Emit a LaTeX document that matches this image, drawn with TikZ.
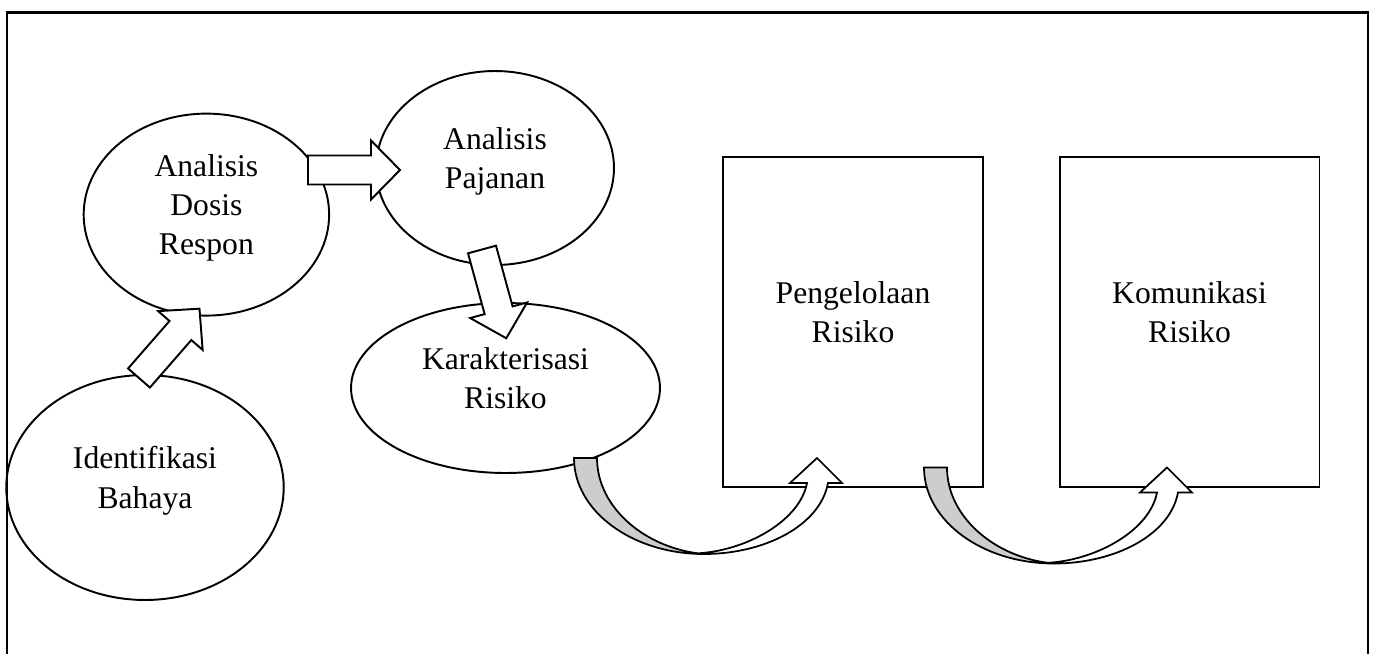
\documentclass[tikz,border=0pt]{standalone}
\usepackage{fontspec}
\setmainfont{Liberation Serif}
\usetikzlibrary{shapes.geometric}
\definecolor{tailgray}{RGB}{205,205,205}

\begin{document}
\begin{tikzpicture}[x=0.02cm,y=-0.02cm,
  every node/.style={align=center,font=\fontsize{18}{22.4}\selectfont},
  oval/.style={draw,ellipse,line width=1.1pt,inner sep=0pt,text depth=0.4cm},
  panel/.style={draw,rectangle,line width=1.1pt,inner sep=0pt,text depth=0.4cm,
    minimum width=5.2cm,minimum height=6.61cm},
  blockarr/.pic={
    \draw[line width=1.1pt,fill=white] (0,-14.5) -- (63,-14.5) -- (63,-29.5) -- (92,0)
      -- (63,29.5) -- (63,14.5) -- (0,14.5) -- cycle;},
  bendarr/.pic={
    \draw[line width=1pt,fill=tailgray] (0,0) .. controls (0,53) and (58,96) .. (130,96)
      .. controls (72,91) and (23,50) .. (23,0) -- cycle;
    \draw[line width=1pt,fill=white] (128,95) .. controls (175,91) and (226,62) .. (233,25)
      -- (216,25) -- (243,0) -- (268,25) -- (254,25)
      .. controls (246,68) and (190,96) .. (130,96) -- cycle;}]
  \useasboundingbox (0,0) rectangle (1376,653);
  \clip (0,0) rectangle (1376,653);
  % outer frame
  \draw[line width=1.4pt] (7,700) -- (7,12.5) -- (1368,12.5) -- (1368,700);

  \node[oval,minimum width=4.91cm,minimum height=4.04cm] (dosis) at (206.4,214.6)
    {Analisis\\Dosis\\Respon};
  \node[oval,minimum width=4.76cm,minimum height=3.88cm] (pajanan) at (495,168)
    {Analisis\\Pajanan};
  \node[oval,minimum width=6.18cm,minimum height=3.4cm] (karakter) at (505.5,388)
    {Karakterisasi\\Risiko};
  \node[oval,minimum width=5.55cm,minimum height=4.5cm] (bahaya) at (145,487.5)
    {Identifikasi\\Bahaya};
  \node[panel] (kelola) at (853,322) {Pengelolaan\\Risiko};
  \node[panel] (komunikasi) at (1189.5,322) {Komunikasi\\Risiko};

  % block arrows
  \pic[rotate=48.9] at (139,378) {blockarr};
  \pic at (308,170) {blockarr};
  \pic[rotate=-74.7] at (482,249.5) {blockarr};
  % bent arrows
  \pic at (574,458) {bendarr};
  \pic at (924,467.5) {bendarr};
\end{tikzpicture}
\end{document}
